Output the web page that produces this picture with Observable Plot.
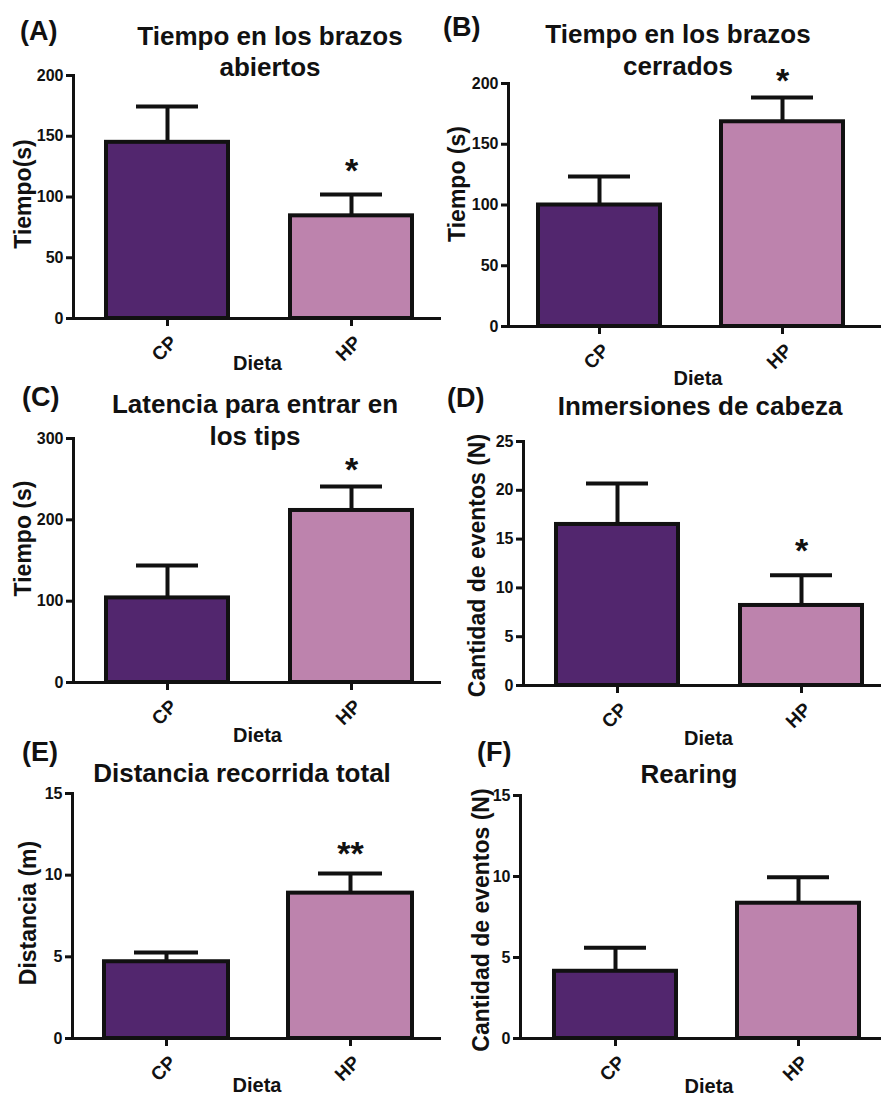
<!DOCTYPE html>
<html>
<head>
<meta charset="utf-8">
<script src="https://cdn.jsdelivr.net/npm/d3@7"></script>
<script src="https://cdn.jsdelivr.net/npm/@observablehq/plot@0.6"></script>
<style>
  html, body { margin: 0; padding: 0; background: #fff; }
  #fig {
    position: relative; width: 881px; height: 1098px; background: #fff; overflow: hidden;
    font-family: "Liberation Sans", Arial, Helvetica, sans-serif; font-weight: bold; color: #111;
  }
  .panel { position: absolute; }
  .ttl { position: absolute; white-space: nowrap; line-height: 1; text-align: center; }
</style>
</head>
<body>
<div id="fig"></div>
<script>
// Diet groups and their bar colours
const groups = ["CP", "HP"];
const barColors = ["#52266e", "#bd83ad"];

// Panel letters, titles (one entry per line) and axis labels
const letters = ["(A)", "(B)", "(C)", "(D)", "(E)", "(F)"];
const titles = [
  ["Tiempo en los brazos", "abiertos"],
  ["Tiempo en los brazos", "cerrados"],
  ["Latencia para entrar en", "los tips"],
  ["Inmersiones de cabeza"],
  ["Distancia recorrida total"],
  ["Rearing"]
];
const yLabels = ["Tiempo(s)", "Tiempo (s)", "Tiempo (s)", "Cantidad de eventos (N)", "Distancia (m)", "Cantidad de eventos (N)"];
const xLabel = "Dieta";

// Y axis extents and ticks
const yMax = [200, 200, 300, 25, 15, 15];
const yTicks = [
  [0, 50, 100, 150, 200],
  [0, 50, 100, 150, 200],
  [0, 100, 200, 300],
  [0, 5, 10, 15, 20, 25],
  [0, 5, 10, 15],
  [0, 5, 10, 15]
];

// Means and standard errors for CP and HP in each panel
const means = [[145, 84.5], [100, 168.5], [104, 211.5], [16.5, 8.2], [4.7, 8.9], [4.15, 8.35]];
const sems  = [[29.5, 17.5], [23.5, 20], [40, 29.5], [4.2, 3.1], [0.57, 1.2], [1.45, 1.6]];
// Significance marks
const stars = [["", "*"], ["", "*"], ["", "*"], ["", "*"], ["", "**"], ["", ""]];

// Placement of each panel on the page
const layout = [
  {left: 0,   top: 0,   mLeft: 73, mTop: 75, frameH: 243, pad: [0.338, 0.164, 0.53], yl: [-50, -3],  xl: [0, 45],  starDy: -23,
   letter: [20, 41],  title: [270, [45, 76]]},
  {left: 440, top: 0,   mLeft: 68, mTop: 83, frameH: 243, pad: [0.332, 0.180, 0.44], yl: [-51, -21], xl: [3, 52],  starDy: -16,
   letter: [443, 37], title: [678, [43, 75]]},
  {left: 0,   top: 360, mLeft: 73, mTop: 78, frameH: 244, pad: [0.336, 0.164, 0.53], yl: [-50, -22], xl: [0, 53],  starDy: -16,
   letter: [22, 407], title: [255, [413, 445]]},
  {left: 440, top: 360, mLeft: 83, mTop: 81, frameH: 244, pad: [0.338, 0.137, 0.63], yl: [-46, 2],   xl: [6, 53],  starDy: -24,
   letter: [447, 408], title: [700, [415]]},
  {left: 0,   top: 730, mLeft: 72, mTop: 63, frameH: 245, pad: [0.326, 0.163, 0.52], yl: [-44, -3],  xl: [0, 47],  starDy: -19,
   letter: [22, 762], title: [242, [782]]},
  {left: 440, top: 730, mLeft: 80, mTop: 65, frameH: 243, pad: [0.332, 0.147, 0.61], yl: [-39, 3],   xl: [8, 48],  starDy: -19,
   letter: [477, 762], title: [689, [783]]}
];

const fig = document.getElementById("fig");
const panelWidth = 441;
const marginBottom = 60;
const letterSize = 27, titleSize = 26;

function addText(str, size, x, baseline, center) {
  const d = document.createElement("div");
  d.className = "ttl";
  d.textContent = str;
  d.style.fontSize = size + "px";
  d.style.top = (baseline - 0.8465 * size) + "px";
  if (center) { d.style.left = (x - 250) + "px"; d.style.width = "500px"; }
  else { d.style.left = x + "px"; d.style.textAlign = "left"; }
  fig.appendChild(d);
}

layout.forEach((L, i) => {
  const rows = groups.map((g, j) => ({group: g, mean: means[i][j], sem: sems[i][j], star: stars[i][j]}));
  const chart = Plot.plot({
    width: panelWidth,
    height: L.mTop + L.frameH + marginBottom,
    marginLeft: L.mLeft,
    marginRight: 0,
    marginTop: L.mTop,
    marginBottom: marginBottom,
    style: {background: "transparent", overflow: "visible", fontFamily: "'Liberation Sans', Arial, sans-serif", fontWeight: "bold", color: "#111"},
    x: {domain: groups, paddingInner: L.pad[0], paddingOuter: L.pad[1], align: L.pad[2], label: null},
    y: {domain: [0, yMax[i]], label: null},
    color: {domain: groups, range: barColors},
    marks: [
      Plot.barY(rows, {x: "group", y: "mean", fill: "group", stroke: "#111", strokeWidth: 4}),
      Plot.ruleX(rows, {x: "group", y1: "mean", y2: d => d.mean + d.sem, stroke: "#111", strokeWidth: 4}),
      Plot.tickY(rows, {x: "group", y: d => d.mean + d.sem, stroke: "#111", strokeWidth: 4, insetLeft: 30, insetRight: 30}),
      Plot.text(rows, {x: "group", y: d => d.mean + d.sem, text: "star", dy: L.starDy, fontSize: 34, fill: "#111"}),
      Plot.ruleY([0], {stroke: "#111", strokeWidth: 3}),
      Plot.frame({anchor: "left", stroke: "#111", strokeWidth: 3}),
      Plot.axisY({ticks: yTicks[i], tickSize: 7, tickPadding: 3, fontSize: 16, strokeWidth: 3, label: null}),
      // tick marks and rotated category labels drawn as two layers of the same axis
      Plot.axisX({tickSize: 8, text: null, strokeWidth: 3, label: null}),
      Plot.axisX({tickSize: 0, tickPadding: 30, dx: -3, tickRotate: -45, textAnchor: "middle", lineAnchor: "middle", fontSize: 19, label: null}),
      Plot.text([yLabels[i]], {frameAnchor: "left", rotate: -90, textAnchor: "middle", lineAnchor: "middle", dx: L.yl[0], dy: L.yl[1], fontSize: 23, fill: "#111", text: d => d}),
      Plot.text([xLabel], {frameAnchor: "bottom", textAnchor: "middle", lineAnchor: "middle", dx: L.xl[0], dy: L.xl[1], fontSize: 20, fill: "#111", text: d => d})
    ]
  });
  chart.classList.add("panel");
  chart.style.left = L.left + "px";
  chart.style.top = L.top + "px";
  fig.appendChild(chart);

  addText(letters[i], letterSize, L.letter[0], L.letter[1], false);
  titles[i].forEach((line, k) => addText(line, titleSize, L.title[0], L.title[1][k], true));
});
</script>
</body>
</html>
